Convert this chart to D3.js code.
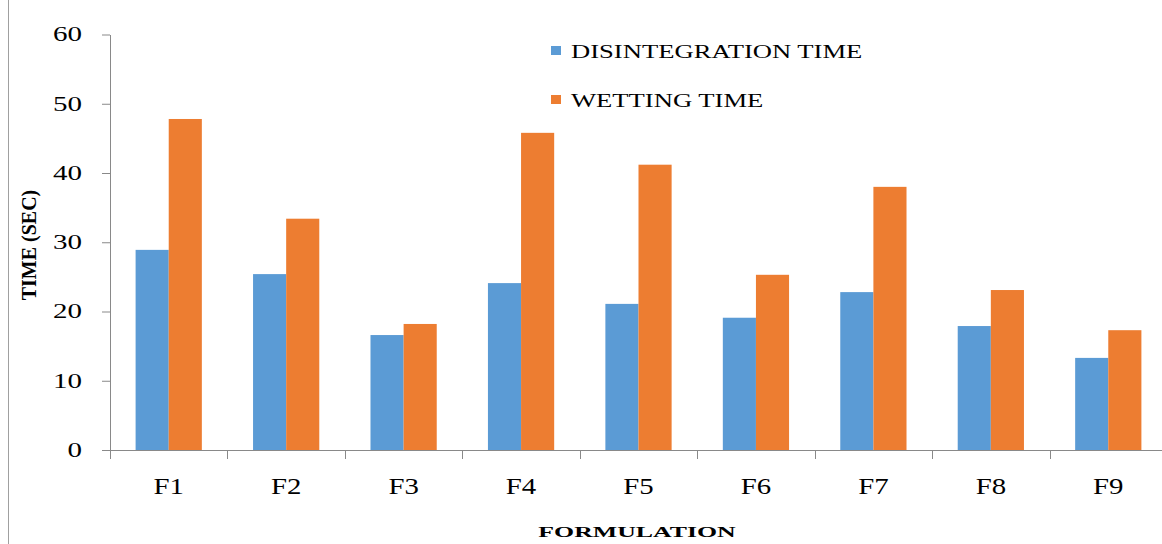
<!DOCTYPE html>
<html>
<head>
<meta charset="utf-8">
<script src="https://cdn.jsdelivr.net/npm/d3@7"></script>
<style>
  body { margin: 0; background: #fff; }
  svg { display: block; font-family: "Liberation Serif", "Times New Roman", serif; }
</style>
</head>
<body>
<svg id="chart" width="1162" height="544"></svg>
<script>
const categories = ["F1", "F2", "F3", "F4", "F5", "F6", "F7", "F8", "F9"];
const series = ["DISINTEGRATION TIME", "WETTING TIME"];
const disintegration = [28.9, 25.4, 16.6, 24.1, 21.1, 19.1, 22.8, 17.9, 13.3];
const wetting = [47.8, 33.4, 18.2, 45.8, 41.2, 25.3, 38.0, 23.1, 17.3];
const yTicks = [0, 10, 20, 30, 40, 50, 60];
const colors = ["#5B9BD5", "#ED7D31"];

const margin = { top: 34.5, right: -5, bottom: 94, left: 110 };
const width = 1162, height = 544;
const axisColor = "#898989";

const svg = d3.select("#chart");

// the picture is stretched sideways, so text is widened to match
function stretch(sel, factor) {
  sel.each(function () {
    const w = this.getComputedTextLength();
    d3.select(this).attr("textLength", w * factor).attr("lengthAdjust", "spacingAndGlyphs");
  });
}

const x = d3.scaleBand()
  .domain(categories)
  .range([margin.left, width - margin.right])
  .padding(0);

const x1 = d3.scaleBand()
  .domain(series)
  .range([x.bandwidth() * 0.218, x.bandwidth() * 0.782])
  .padding(0);

const y = d3.scaleLinear()
  .domain([0, 60])
  .range([height - margin.bottom, margin.top]);

const rows = categories.map((c, i) => ({
  cat: c,
  values: [
    { key: series[0], value: disintegration[i] },
    { key: series[1], value: wetting[i] }
  ]
}));

// faint page border on the left
svg.append("line")
  .attr("x1", 8.5).attr("x2", 8.5)
  .attr("y1", 0).attr("y2", height)
  .attr("stroke", "#a0a0a0").attr("stroke-width", 1);

// bars
const groups = svg.append("g")
  .selectAll("g")
  .data(rows)
  .join("g")
  .attr("transform", d => `translate(${x(d.cat)},0)`);

groups.selectAll("rect")
  .data(d => d.values)
  .join("rect")
  .attr("x", d => x1(d.key))
  .attr("width", x1.bandwidth())
  .attr("y", d => y(d.value))
  .attr("height", d => y(0) - y(d.value))
  .attr("fill", (d, i) => colors[i]);

// y axis
const yAxis = d3.axisLeft(y).tickValues(yTicks).tickSize(8).tickPadding(20).tickSizeOuter(0);
const yAxisGroup = svg.append("g")
  .attr("transform", `translate(${margin.left},0)`)
  .call(yAxis);
yAxisGroup.select(".domain").attr("stroke", axisColor);
yAxisGroup.selectAll(".tick line").attr("stroke", axisColor);
yAxisGroup.selectAll(".tick text")
  .attr("fill", "#000")
  .style("font-size", "20px")
  .style("font-family", "Liberation Serif")
  .call(stretch, 1.45);

// x axis line and boundary ticks
const xAxisGroup = svg.append("g");
xAxisGroup.append("line")
  .attr("x1", margin.left).attr("x2", width)
  .attr("y1", y(0) + 0.5).attr("y2", y(0) + 0.5)
  .attr("stroke", axisColor);
xAxisGroup.selectAll(".bound")
  .data(categories)
  .join("line")
  .attr("class", "bound")
  .attr("x1", d => Math.round(x(d)) + 0.5)
  .attr("x2", d => Math.round(x(d)) + 0.5)
  .attr("y1", y(0))
  .attr("y2", y(0) + 9)
  .attr("stroke", axisColor);

const xAxis = d3.axisBottom(x).tickSize(0).tickPadding(27);
const xLabels = svg.append("g")
  .attr("transform", `translate(0,${y(0)})`)
  .call(xAxis);
xLabels.select(".domain").remove();
xLabels.selectAll(".tick text")
  .attr("fill", "#000")
  .style("font-size", "24px")
  .style("font-family", "Liberation Serif")
  .call(stretch, 1.2);

// axis titles
svg.append("text")
  .attr("transform", `translate(36,245) rotate(-90)`)
  .attr("text-anchor", "middle")
  .style("font-size", "20px")
  .style("font-weight", "bold")
  .text("TIME (SEC)");

svg.append("text")
  .attr("x", 637)
  .attr("y", 537)
  .attr("text-anchor", "middle")
  .style("font-size", "15px")
  .style("font-weight", "bold")
  .text("FORMULATION")
  .call(stretch, 1.72);

// legend
const legend = svg.append("g")
  .selectAll("g")
  .data(series)
  .join("g")
  .attr("transform", (d, i) => `translate(551,${46 + i * 49})`);

legend.append("rect")
  .attr("width", 10)
  .attr("height", 9)
  .attr("fill", (d, i) => colors[i]);

legend.append("text")
  .attr("x", 20)
  .attr("y", 12)
  .style("font-size", "19px")
  .text(d => d)
  .call(stretch, 1.4);
</script>
</body>
</html>
